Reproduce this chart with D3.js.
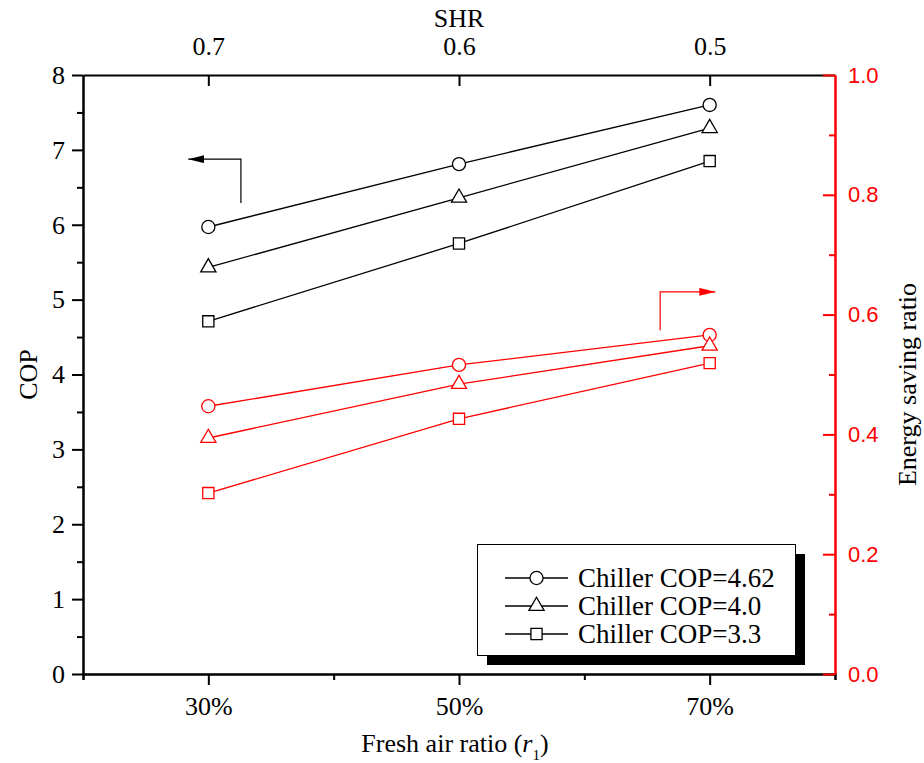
<!DOCTYPE html>
<html>
<head>
<meta charset="utf-8">
<script src="https://cdn.jsdelivr.net/npm/d3@7"></script>
<style>
  body { margin: 0; background: #fff; }
  svg { display: block; }
</style>
</head>
<body>
<svg id="chart" width="924" height="763"></svg>
<script>
// data
var categories = [30, 50, 70];                 // fresh air ratio, %
var shrLabels = ["0.7", "0.6", "0.5"];
var seriesNames = ["Chiller COP=4.62", "Chiller COP=4.0", "Chiller COP=3.3"];
var copValues = [
    [5.97, 6.81, 7.60],
    [5.43, 6.36, 7.29],
    [4.71, 5.75, 6.85]
];
var savingValues = [
    [0.447, 0.516, 0.566],
    [0.394, 0.484, 0.548],
    [0.302, 0.426, 0.519]
];
var leftTicks = [0, 1, 2, 3, 4, 5, 6, 7, 8];
var rightTicks = [0, 0.2, 0.4, 0.6, 0.8, 1.0];

var serif = "'Liberation Serif', 'Times New Roman', serif";
var sans = "'Liberation Sans', Arial, sans-serif";
var RED = "#ff0000";

var svg = d3.select("#chart");
var L = 83, R = 835, T = 75, B = 674;

var x = d3.scaleLinear().domain([20, 80]).range([L, R]);
var yL = d3.scaleLinear().domain([0, 8]).range([B, T]);
var yR = d3.scaleLinear().domain([0, 1]).range([B, T]);

var symbolTypes = [d3.symbolCircle, d3.symbolTriangle, d3.symbolSquare];
var symbolSizes = [135, 100, 125];

//draw lines + markers
function drawSeries(values, yScale, color) {
    var line = d3.line()
        .x(function (d, i) { return x(categories[i]); })
        .y(function (d) { return yScale(d); });
    values.forEach(function (vals, s) {
        svg.append("path")
            .attr("d", line(vals))
            .attr("fill", "none")
            .attr("stroke", color)
            .attr("stroke-width", 1.3);
        svg.selectAll(null)
            .data(vals)
            .enter()
            .append("path")
            .attr("transform", function (d, i) {
                return "translate(" + x(categories[i]) + "," + yScale(d) + ")";
            })
            .attr("d", d3.symbol().type(symbolTypes[s]).size(symbolSizes[s]))
            .attr("fill", "#fff")
            .attr("stroke", color)
            .attr("stroke-width", 1.3);
    });
}

// axes
function styleAxis(g, color, font, size) {
    g.select(".domain").attr("stroke", color).attr("stroke-width", 2);
    g.selectAll(".tick line").attr("stroke", color).attr("stroke-width", 2);
    g.selectAll(".tick text")
        .attr("fill", color)
        .style("font-family", font)
        .style("font-size", size + "px");
}

// bottom
var axBottomMinor = svg.append("g")
    .attr("transform", "translate(0," + B + ")")
    .call(d3.axisBottom(x).tickValues([20, 40, 60, 80]).tickSize(6).tickFormat(""));
styleAxis(axBottomMinor, "#000", serif, 26);
var axBottom = svg.append("g")
    .attr("transform", "translate(0," + B + ")")
    .call(d3.axisBottom(x).tickValues(categories).tickSize(11).tickSizeOuter(0)
        .tickFormat(function (d) { return d + "%"; }).tickPadding(12));
styleAxis(axBottom, "#000", serif, 26);

// top (SHR)
var axTop = svg.append("g")
    .attr("transform", "translate(0," + T + ")")
    .call(d3.axisTop(x).tickValues(categories).tickSizeInner(-11).tickSizeOuter(0)
        .tickFormat(function (d, i) { return shrLabels[i]; }).tickPadding(20));
styleAxis(axTop, "#000", serif, 26);

// left (COP)
var axLeftMinor = svg.append("g")
    .attr("transform", "translate(" + L + ",0)")
    .call(d3.axisLeft(yL).tickValues(d3.range(0.5, 8, 1)).tickSize(6).tickSizeOuter(0).tickFormat(""));
styleAxis(axLeftMinor, "#000", serif, 26);
var axLeft = svg.append("g")
    .attr("transform", "translate(" + L + ",0)")
    .call(d3.axisLeft(yL).tickValues(leftTicks).tickSize(11).tickSizeOuter(0).tickPadding(7));
styleAxis(axLeft, "#000", serif, 26);

// right (energy saving ratio)
var axRightMinor = svg.append("g")
    .attr("transform", "translate(" + R + ",0)")
    .call(d3.axisRight(yR).tickValues([0.1, 0.3, 0.5, 0.7, 0.9]).tickSize(-6).tickSizeOuter(0).tickFormat(""));
styleAxis(axRightMinor, RED, sans, 22);
var axRight = svg.append("g")
    .attr("transform", "translate(" + R + ",0)")
    .call(d3.axisRight(yR).tickValues(rightTicks).tickSizeInner(-12).tickSizeOuter(0)
        .tickFormat(d3.format(".1f")).tickPadding(13));
styleAxis(axRight, RED, sans, 22);
axRight.selectAll(".tick text").attr("x", 13);

drawSeries(copValues, yL, "#000");
drawSeries(savingValues, yR, RED);

// arrows
var defs = svg.append("defs");
[["headBlack", "#000"], ["headRed", RED]].forEach(function (m) {
    defs.append("marker")
        .attr("id", m[0])
        .attr("viewBox", "0 0 16 8")
        .attr("refX", 16).attr("refY", 4)
        .attr("markerWidth", 16).attr("markerHeight", 8)
        .attr("markerUnits", "userSpaceOnUse")
        .attr("orient", "auto")
        .append("path")
        .attr("d", "M0,0 L16,4 L0,8 Z")
        .attr("fill", m[1]);
});
svg.append("path")
    .attr("d", "M" + x(32.6) + "," + yL(6.29) + " L" + x(32.6) + "," + yL(6.876) + " L" + x(28.4) + "," + yL(6.876))
    .attr("fill", "none").attr("stroke", "#000").attr("stroke-width", 1.2)
    .attr("marker-end", "url(#headBlack)");
svg.append("path")
    .attr("d", "M" + x(66.05) + "," + yR(0.574) + " L" + x(66.05) + "," + yR(0.638) + " L" + x(70.45) + "," + yR(0.638))
    .attr("fill", "none").attr("stroke", RED).attr("stroke-width", 1.2)
    .attr("marker-end", "url(#headRed)");

// axis titles
svg.append("text")
    .attr("x", (L + R) / 2).attr("y", 27)
    .attr("text-anchor", "middle")
    .style("font-family", serif).style("font-size", "26px")
    .text("SHR");

var xTitle = svg.append("text")
    .attr("x", (L + R) / 2 - 4).attr("y", 752)
    .attr("text-anchor", "middle")
    .style("font-family", serif).style("font-size", "26px");
xTitle.append("tspan").text("Fresh air ratio (");
xTitle.append("tspan").style("font-style", "italic").text("r");
xTitle.append("tspan").attr("dy", 8).style("font-size", "15px").text("1");
xTitle.append("tspan").attr("dy", -8).text(")");

svg.append("text")
    .attr("transform", "translate(37," + ((T + B) / 2) + ") rotate(-90)")
    .attr("text-anchor", "middle")
    .style("font-family", serif).style("font-size", "26px")
    .text("COP");

svg.append("text")
    .attr("transform", "translate(916," + ((T + B) / 2 + 10) + ") rotate(-90)")
    .attr("text-anchor", "middle")
    .style("font-family", serif).style("font-size", "26px")
    .text("Energy saving ratio");

// legend
var lg = svg.append("g");
lg.append("rect")
    .attr("x", 487).attr("y", 554).attr("width", 318).attr("height", 111)
    .attr("fill", "#000");
lg.append("rect")
    .attr("x", 477.5).attr("y", 544.5).attr("width", 318).attr("height", 111)
    .attr("fill", "#fff").attr("stroke", "#000").attr("stroke-width", 1);
seriesNames.forEach(function (name, s) {
    var cy = 578 + s * 28;
    lg.append("line")
        .attr("x1", 505).attr("x2", 568).attr("y1", cy).attr("y2", cy)
        .attr("stroke", "#000").attr("stroke-width", 1.3);
    lg.append("path")
        .attr("transform", "translate(536.5," + cy + ")")
        .attr("d", d3.symbol().type(symbolTypes[s]).size(symbolSizes[s]))
        .attr("fill", "#fff").attr("stroke", "#000").attr("stroke-width", 1.3);
    lg.append("text")
        .attr("x", 578).attr("y", cy + 9)
        .style("font-family", serif).style("font-size", "27px")
        .text(name);
});
</script>
</body>
</html>
